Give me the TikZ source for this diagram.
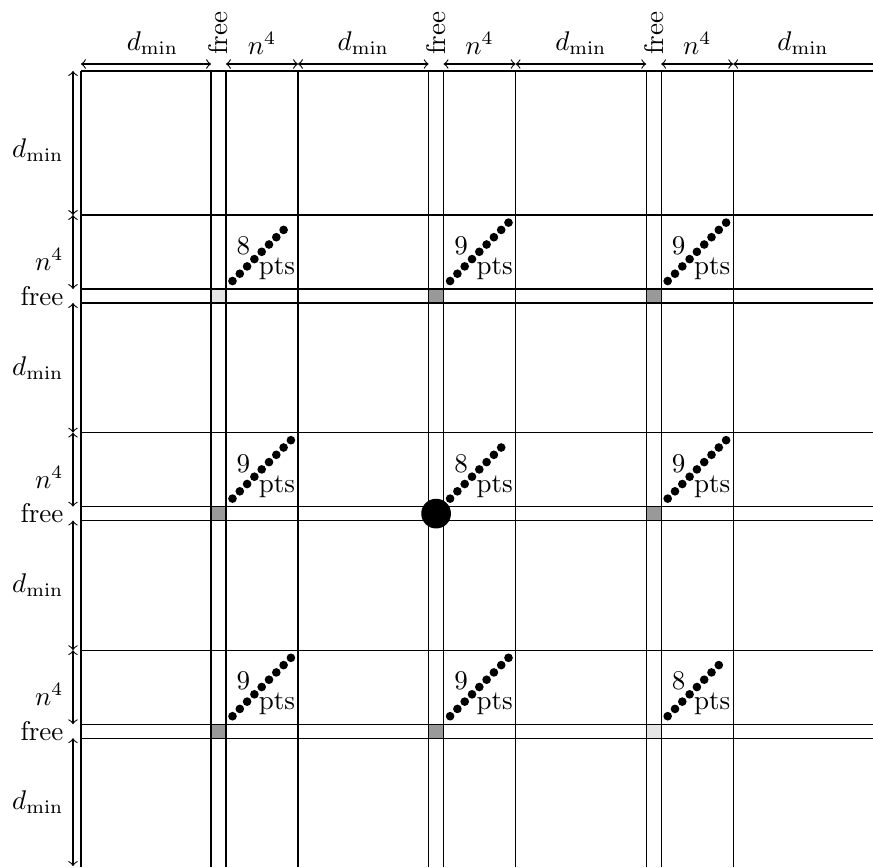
\documentclass[tikz,border=0pt]{standalone}
\usepackage{amsmath}
\usepackage{amssymb}
\usepackage{tikz}
\usetikzlibrary{arrows.meta,calc}

\tikzset{
  measure/.style={<->,>=to},
  halfmeasure/.style={<-,>=to},
  dotpt/.style={fill=black}
}

\begin{document}
\begin{tikzpicture}[x=0.37pt,y=-0.37pt]
\useasboundingbox (0,0) rectangle (873,867);
% shaded crossings of the free strips (light: 8 pts, dark: 9 pts)
\foreach \i/\j/\c in {0/0/10,1/0/40,2/0/40,0/1/40,1/1/40,2/1/40,0/2/40,1/2/40,2/2/10} {
  \fill[black!\c] ({211+217.6*\i},{289+217.6*\j}) rectangle ({226+217.6*\i},{303+217.6*\j});
}
% grid
\draw (81,71) -- (81,867);
\draw (81,71) -- (873,71);
\foreach \i in {0,1,2} {
  \foreach \dx in {211,226,298} {\draw ({\dx+217.6*\i},71) -- ({\dx+217.6*\i},867);}
  \foreach \dy in {215,289,303} {\draw (81,{\dy+217.6*\i}) -- (873,{\dy+217.6*\i});}
}
% diagonal points in the n^4 x n^4 cells
\foreach \i/\j/\n in {0/0/8,1/0/9,2/0/9,0/1/9,1/1/8,2/1/9,0/2/9,1/2/9,2/2/8} {
  \foreach \k in {1,...,\n} {\fill[dotpt] ({232.5+217.6*\i+7.3*(\k-1)},{281+217.6*\j-7.3*(\k-1)}) circle (1.6pt);}
  \node (num-\i-\j) at ({243.5+217.6*\i},{246+217.6*\j}) {\n};
  \node (pts-\i-\j) at ({277+217.6*\i},{269+217.6*\j}) {pts};
}
% centre point
\coordinate (centre) at (436.1,513.6);
\fill (centre) circle (5.5pt);
% top measures
\draw[measure] (81,64) -- (211,64) node[pos=0.55,above] (top-dmin-0) {$d_{\min}$};
\foreach \i in {0,1,2} {
  \ifnum\i>0
    \draw[measure] ({298+217.6*(\i-1)},64) -- ({211+217.6*\i},64) node[midway,above] (top-dmin-\i) {$d_{\min}$};
  \fi
  \draw[measure] ({226+217.6*\i},64) -- ({298+217.6*\i},64) node[midway,above] (top-n4-\i) {$n^4$};
  \node[rotate=90,anchor=west] (top-free-\i) at ({218.5+217.6*\i},64) {free};
}
\draw[halfmeasure] (733.2,64) -- (873,64) node[midway,above] (top-dmin-3) {$d_{\min}$};
% left measures
\draw[measure] (73,71) -- (73,215) node[pos=0.55,left] (left-dmin-0) {$d_{\min}$};
\foreach \j in {0,1,2} {
  \draw[measure] (73,{215+217.6*\j}) -- (73,{289+217.6*\j}) node[pos=0.6,left] (left-n4-\j) {$n^4$};
  \node[left] (left-free-\j) at (73,{296+217.6*\j}) {free};
}
\draw[measure] (73,303) -- (73,432.6) node[midway,left] (left-dmin-1) {$d_{\min}$};
\draw[measure] (73,520.6) -- (73,650.2) node[midway,left] (left-dmin-2) {$d_{\min}$};
\draw[measure] (73,738.2) -- (73,866) node[midway,left] (left-dmin-3) {$d_{\min}$};
\end{tikzpicture}
\end{document}
